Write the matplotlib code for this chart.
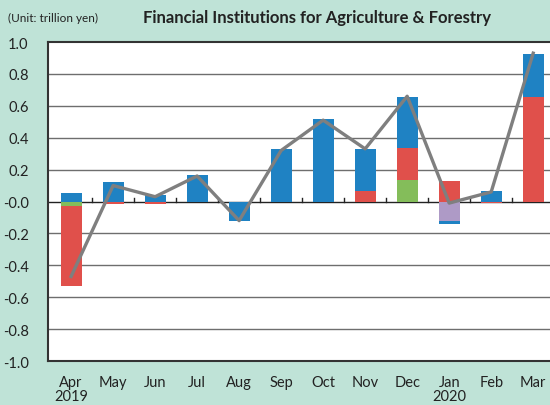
import matplotlib
matplotlib.use("Agg")
import matplotlib.pyplot as plt
import matplotlib.transforms as mtransforms
import numpy as np

months = ["Apr", "May", "Jun", "Jul", "Aug", "Sep", "Oct", "Nov", "Dec", "Jan", "Feb", "Mar"]
years = {0: "2019", 9: "2020"}
# components (trillion yen)
green = [-0.03, 0.0, 0.0, 0.0, 0.0, 0.0, 0.0, 0.0, 0.135, 0.0, 0.0, 0.0]
red = [-0.50, -0.015, -0.015, -0.005, 0.0, 0.0, 0.0, 0.068, 0.20, 0.13, -0.01, 0.655]
purple = [0.0, 0.0, 0.0, 0.0, 0.0, 0.0, 0.0, 0.0, 0.0, -0.124, 0.0, 0.0]
blue = [0.053, 0.12, 0.04, 0.165, -0.125, 0.33, 0.52, 0.26, 0.32, -0.02, 0.064, 0.27]
total = [-0.47, 0.10, 0.03, 0.16, -0.12, 0.32, 0.51, 0.33, 0.66, -0.01, 0.06, 0.93]

C_BLUE = "#1F82C3"
C_RED = "#E0504B"
C_GREEN = "#84BD5A"
C_PURPLE = "#AE9AC6"
C_LINE = "#7F7F7F"
BG = "#BFE3D7"

plt.rcParams['font.family'] = ['Lato', 'DejaVu Sans']

fig = plt.figure(figsize=(5.5, 4.06), dpi=100, facecolor=BG)
ax = fig.add_axes([48/550, 1-362/406, 1-48/550, (362-43)/406])
ax.set_facecolor("white")

x = np.arange(len(months))
w = 0.5
pos_base = np.zeros(len(x))
neg_base = np.zeros(len(x))
for vals, col in [(green, C_GREEN), (red, C_RED), (purple, C_PURPLE), (blue, C_BLUE)]:
    v = np.array(vals)
    b = np.where(v >= 0, pos_base, neg_base)
    ax.bar(x, v, width=w, bottom=b, color=col, zorder=3)
    pos_base = pos_base + np.where(v > 0, v, 0)
    neg_base = neg_base + np.where(v < 0, v, 0)

ax.plot(x, total, color=C_LINE, lw=2.4, zorder=4)

ax.set_ylim(-1.0, 1.0)
ax.set_xlim(-0.55, 11.4)
ax.set_yticks(np.arange(-1.0, 1.01, 0.2))
ax.set_yticklabels([f"{v:.1f}" for v in np.arange(-1.0, 1.01, 0.2)])
for yv in np.arange(-0.8, 0.81, 0.2):
    zero = abs(yv) < 1e-9
    ax.axhline(yv, color="#222222" if zero else "#6E6E6E", lw=1.0, zorder=2 if zero else 1)
# ticks between categories on zero line
for xb in np.arange(0.5, 11, 1.0):
    ax.plot([xb, xb], [0, 0.025], color="#222222", lw=1.0, zorder=2)

ax.tick_params(axis="y", length=0, labelsize=10.5, pad=14, colors="#222222")
ax.tick_params(axis="x", length=0, labelsize=10.5, pad=10, colors="#222222")
ax.set_xticks(x)
ax.set_xticklabels(months)
off = ax.transData + mtransforms.ScaledTranslation(0, -20/72, fig.dpi_scale_trans)
for i, yr in years.items():
    ax.text(i, -1.0, yr, transform=off, ha="center", va="top", fontsize=10.5, color="#222222")

for s in ["left", "top", "bottom"]:
    ax.spines[s].set_color("#333333")
    ax.spines[s].set_linewidth(1.5)
ax.spines["right"].set_visible(False)

fig.text(8/550, 1-18/406, "(Unit: trillion yen)", fontsize=8.5, va="center", ha="left", color="#222222")
fig.text(317/550, 1-18/406, "Financial Institutions for Agriculture & Forestry", fontsize=12,
         fontweight="bold", va="center", ha="center", color="#222222")

fig.savefig("out.png", dpi=100, facecolor=BG)
